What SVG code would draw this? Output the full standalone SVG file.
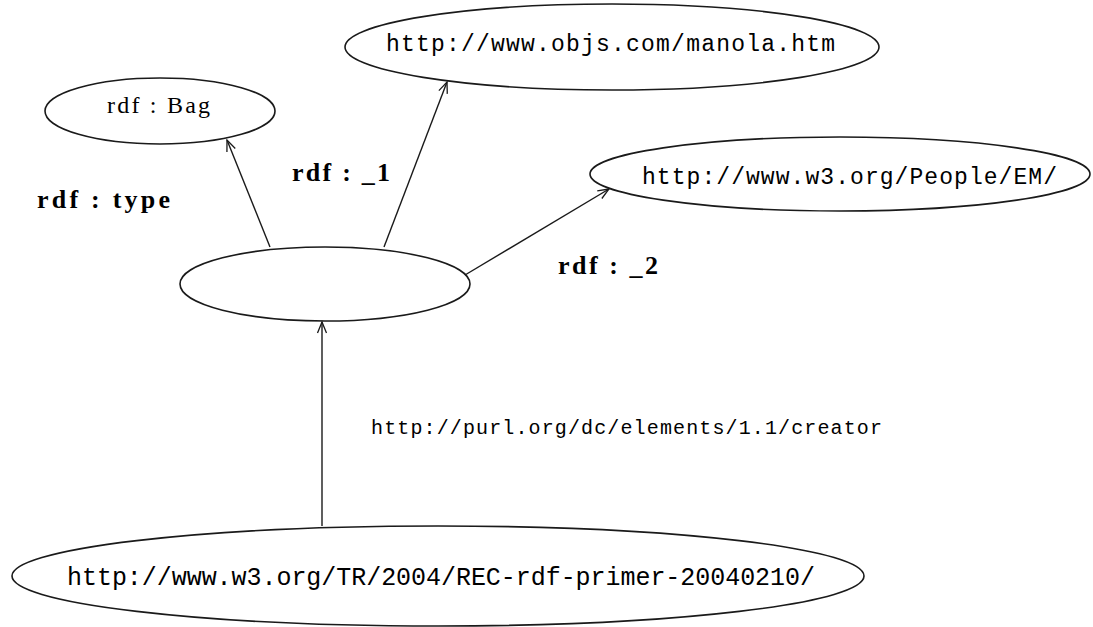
<svg xmlns="http://www.w3.org/2000/svg" width="1093" height="627" viewBox="0 0 1093 627">
<style>
.node{fill:#fff;stroke:#1a1a1a;stroke-width:1.6}
.url{font-family:"Liberation Mono","Courier New",monospace;fill:#000}
.lbl{font-family:"Liberation Serif","Times New Roman",serif;font-weight:bold;fill:#000;font-size:26px}
.edge{stroke:#1a1a1a;stroke-width:1.4;fill:none}
</style>
<defs>
<marker id="arr" markerWidth="14" markerHeight="12" refX="0" refY="0" viewBox="-12 -6 14 12" orient="auto" markerUnits="userSpaceOnUse">
<path d="M-11,-4.5 L0,0 L-11,4.5" fill="none" stroke="#1a1a1a" stroke-width="1.3"/>
</marker>
</defs>
<rect width="1093" height="627" fill="#fff"/>
<g id="n-bag">
<ellipse class="node" cx="160" cy="111" rx="115" ry="33"/>
<text x="107" y="113" font-family="Liberation Serif, Times New Roman, serif" font-size="24" fill="#000" textLength="103" lengthAdjust="spacing">rdf : Bag</text>
</g>
<g id="n-manola">
<ellipse class="node" cx="612" cy="47" rx="267" ry="43"/>
<text class="url" x="386" y="51" font-size="23" textLength="449" lengthAdjust="spacing">http://www.objs.com/manola.htm</text>
</g>
<g id="n-em">
<ellipse class="node" cx="840" cy="174" rx="250" ry="37"/>
<text class="url" x="642" y="184" font-size="23" textLength="415" lengthAdjust="spacing">http://www.w3.org/People/EM/</text>
</g>
<g id="n-blank">
<ellipse class="node" cx="325" cy="284" rx="145" ry="37"/>
</g>
<g id="n-primer">
<ellipse class="node" cx="438" cy="576" rx="426" ry="50"/>
<text class="url" x="67" y="585" font-size="25" textLength="748" lengthAdjust="spacing">http://www.w3.org/TR/2004/REC-rdf-primer-20040210/</text>
</g>
<g id="connectors">
<line class="edge" x1="270" y1="247" x2="227" y2="140" marker-end="url(#arr)"/>
<line class="edge" x1="384" y1="247" x2="447" y2="82" marker-end="url(#arr)"/>
<line class="edge" x1="465" y1="275" x2="609" y2="189" marker-end="url(#arr)"/>
<line class="edge" x1="322" y1="526" x2="322" y2="322" marker-end="url(#arr)"/>
<text class="lbl" x="37" y="208" textLength="133" lengthAdjust="spacing">rdf : type</text>
<text class="lbl" x="292" y="181" textLength="98" lengthAdjust="spacing">rdf : _1</text>
<text class="lbl" x="558" y="274" textLength="100" lengthAdjust="spacing">rdf : _2</text>
<text class="url" x="371" y="434" font-size="20" textLength="511" lengthAdjust="spacing">http://purl.org/dc/elements/1.1/creator</text>
</g>
</svg>
